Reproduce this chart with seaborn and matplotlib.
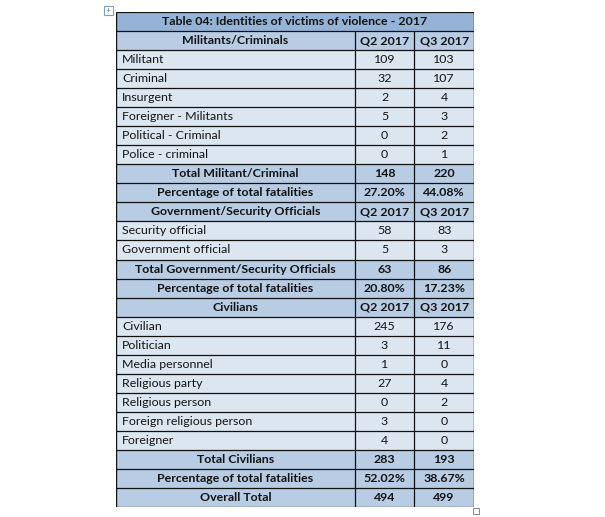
import numpy as np
import matplotlib
matplotlib.use("Agg")
import matplotlib.pyplot as plt
from matplotlib.colors import ListedColormap
import seaborn as sns

title = "Table 04: Identities of victims of violence - 2017"

labels = ["Militants/Criminals", "Militant", "Criminal", "Insurgent",
          "Foreigner - Militants", "Political - Criminal", "Police - criminal",
          "Total Militant/Criminal", "Percentage of total fatalities",
          "Government/Security Officials", "Security official", "Government official",
          "Total Government/Security Officials", "Percentage of total fatalities",
          "Civilians", "Civilian", "Politician", "Media personnel", "Religious party",
          "Religious person", "Foreign religious person", "Foreigner",
          "Total Civilians", "Percentage of total fatalities", "Overall Total"]
q2 = ["Q2 2017", 109, 32, 2, 5, 0, 0, 148, "27.20%",
      "Q2 2017", 58, 5, 63, "20.80%",
      "Q2 2017", 245, 3, 1, 27, 0, 3, 4, 283, "52.02%", 494]
q3 = ["Q3 2017", 103, 107, 4, 3, 2, 1, 220, "44.08%",
      "Q3 2017", 83, 3, 86, "17.23%",
      "Q3 2017", 176, 11, 0, 4, 2, 0, 0, 193, "38.67%", 499]
# 1 = header / total row, 0 = plain data row
bold_rows = [1, 0, 0, 0, 0, 0, 0, 1, 1,
             1, 0, 0, 1, 1,
             1, 0, 0, 0, 0, 0, 0, 0, 1, 1, 1]

sns.set_theme(style="white")
plt.rcParams['font.family'] = ['Lato', 'DejaVu Sans']

n = len(labels) + 1
kind = np.zeros((n, 6))
kind[0, :] = 2
for i, b in enumerate(bold_rows):
    kind[i + 1, :] = b

fig = plt.figure(figsize=(6.05, 5.17), dpi=100)
ax = fig.add_axes([116 / 605, 10 / 517, 358 / 605, 495 / 517])
cmap = ListedColormap(["#dce6f1", "#b8cce4", "#95b3d7"])
sns.heatmap(kind, cmap=cmap, vmin=-0.5, vmax=2.5, cbar=False, ax=ax,
            xticklabels=False, yticklabels=False)

lc = "#111111"
ax.hlines(np.arange(n + 1), 0, 6, color=lc, lw=0.9)
ax.vlines([0, 6], 0, n, color=lc, lw=1.0)
ax.vlines([4, 5], 1, n, color=lc, lw=0.9)

tc = "#141414"
fs = 8.9
ax.text(3, 0.5, title, ha="center", va="center", fontsize=fs, weight="bold", color=tc)
for i, lab in enumerate(labels):
    y = i + 1.5
    w = "bold" if bold_rows[i] else "normal"
    if bold_rows[i]:
        ax.text(2, y, lab, ha="center", va="center", fontsize=fs, weight=w, color=tc)
    else:
        ax.text(0.1, y, lab, ha="left", va="center", fontsize=fs, weight=w, color=tc)
    ax.text(4.5, y, str(q2[i]), ha="center", va="center", fontsize=fs, weight=w, color=tc)
    ax.text(5.5, y, str(q3[i]), ha="center", va="center", fontsize=fs, weight=w, color=tc)

for s in ax.spines.values():
    s.set_visible(False)

# table handles (move icon and resize box)
fig.patches.append(plt.Rectangle((104 / 605, 1 - 15 / 517), 9 / 605, 9 / 517,
                                 transform=fig.transFigure, fill=False,
                                 edgecolor="#7f9fc9", lw=0.8))
fig.text(108.5 / 605, 1 - 10.5 / 517, "+", ha="center", va="center",
         fontsize=6, color="#4a6fa5")
fig.patches.append(plt.Rectangle((473 / 605, 1 - 514 / 517), 6 / 605, 6 / 517,
                                 transform=fig.transFigure, fill=False,
                                 edgecolor="#888888", lw=0.7))

fig.savefig("out.png", dpi=100)
